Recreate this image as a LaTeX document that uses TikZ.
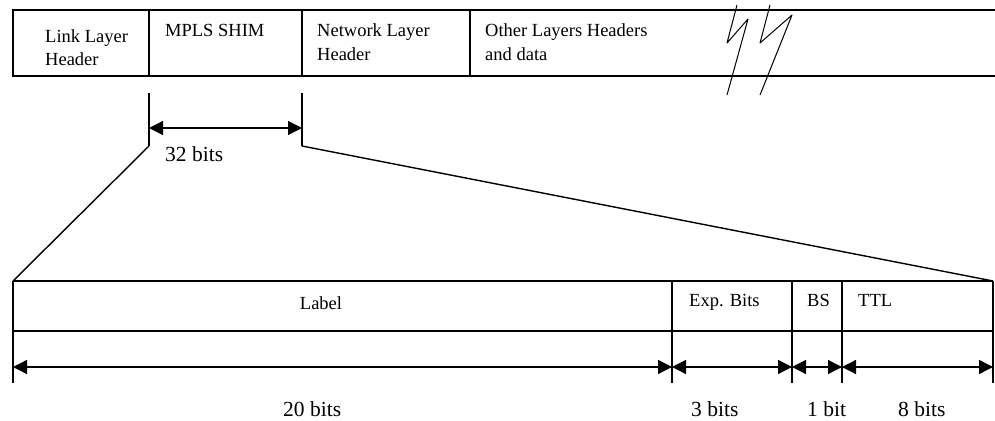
\documentclass[tikz,border=0pt]{standalone}
\usepackage{fontspec}
\setmainfont{Liberation Serif}
\usetikzlibrary{arrows.meta}
\begin{document}
\begin{tikzpicture}[x=1pt,y=-1pt,
  box/.style={line width=1.6pt},
  diag/.style={line width=1.4pt},
  dim/.style={line width=1.3pt,{Triangle[length=14pt,width=14pt]}-{Triangle[length=14pt,width=14pt]}},
  fieldtxt/.style={font=\fontsize{18.5}{22}\selectfont, inner sep=0pt, anchor=base west},
  bitstxt/.style={font=\fontsize{21.5}{24}\selectfont, inner sep=0pt, anchor=base west},
  squig/.style={line width=1pt, line join=round}]
\useasboundingbox (0,0) rectangle (995,420);
% ---------- top packet ----------
\coordinate (t0) at (13,10);  \coordinate (t0b) at (13,76);
\coordinate (t1) at (149,10); \coordinate (t1b) at (149,76);
\coordinate (t2) at (302,10); \coordinate (t2b) at (302,76);
\coordinate (t3) at (470,10); \coordinate (t3b) at (470,76);
\coordinate (tE) at (995,10); \coordinate (tEb) at (995,76);
\draw[box] (tE) -- (t0) -- (t0b) -- (tEb);
\draw[box] (t1) -- (t1b);
\draw[box] (t2) -- (t2b);
\draw[box] (t3) -- (t3b);
\node[fieldtxt] (ll1) at (45,42) {Link Layer};
\node[fieldtxt] (ll2) at (45,66) {Header};
\node[fieldtxt] (mp) at (165,37) {MPLS SHIM};
\node[fieldtxt] (nl1) at (317,37) {Network Layer};
\node[fieldtxt] (nl2) at (317,60) {Header};
\node[fieldtxt] (ol1) at (485,37) {Other Layers Headers};
\node[fieldtxt] (ol2) at (485,60) {and data};
% break mark
\coordinate (s1a) at (737,5);  \coordinate (s1b) at (727,43);
\coordinate (s1c) at (748,19); \coordinate (s1d) at (727,95);
\coordinate (s2a) at (770,5);  \coordinate (s2b) at (760,43);
\coordinate (s2c) at (792,15); \coordinate (s2d) at (760,95);
\draw[squig] (s1a) -- (s1b) -- (s1c) -- (s1d);
\draw[squig] (s2a) -- (s2b) -- (s2c) -- (s2d);
% ---------- 32 bits dimension ----------
\coordinate (k1t) at (149,93);  \coordinate (k1b) at (149,146);
\coordinate (k2t) at (302,93);  \coordinate (k2b) at (302,146);
\coordinate (a1) at (149,128);  \coordinate (a2) at (302,128);
\draw[box] (k1t) -- (k1b);
\draw[box] (k2t) -- (k2b);
\draw[dim] (a1) -- (a2);
\node[bitstxt] (b32) at (165,161) {32 bits};
% ---------- bottom shim ----------
\coordinate (b0t) at (13,281);  \coordinate (b0m) at (13,331);  \coordinate (b0b) at (13,383);
\coordinate (b1t) at (672,281); \coordinate (b1b) at (672,383);
\coordinate (b2t) at (792,281); \coordinate (b2b) at (792,383);
\coordinate (b3t) at (842,281); \coordinate (b3b) at (842,383);
\coordinate (b4t) at (993,281); \coordinate (b4m) at (993,331); \coordinate (b4b) at (993,383);
\draw[diag] (k1b) -- (b0t);
\draw[diag] (k2b) -- (b4t);
\draw[box] (b0t) -- (b4t);
\draw[box] (b0m) -- (b4m);
\draw[box] (b0t) -- (b0b);
\draw[box] (b1t) -- (b1b);
\draw[box] (b2t) -- (b2b);
\draw[box] (b3t) -- (b3b);
\draw[box] (b4t) -- (b4b);
\node[fieldtxt, anchor=base] (lab) at (321,309) {Label};
\node[fieldtxt] (exp) at (689,306) {Exp. Bits};
\node[fieldtxt] (bs) at (807,306) {BS};
\node[fieldtxt] (ttl) at (858,306) {TTL};
\coordinate (d0) at (13,367);  \coordinate (d1) at (672,367);
\coordinate (d2) at (792,367); \coordinate (d3) at (842,367);
\coordinate (d4) at (993,367);
\draw[dim] (d0) -- (d1);
\draw[dim] (d1) -- (d2);
\draw[dim] (d2) -- (d3);
\draw[dim] (d3) -- (d4);
\node[bitstxt] (w20) at (283,416) {20 bits};
\node[bitstxt] (w3) at (691,416) {3 bits};
\node[bitstxt] (w1) at (807,416) {1 bit};
\node[bitstxt] (w8) at (898,416) {8 bits};
\end{tikzpicture}
\end{document}
